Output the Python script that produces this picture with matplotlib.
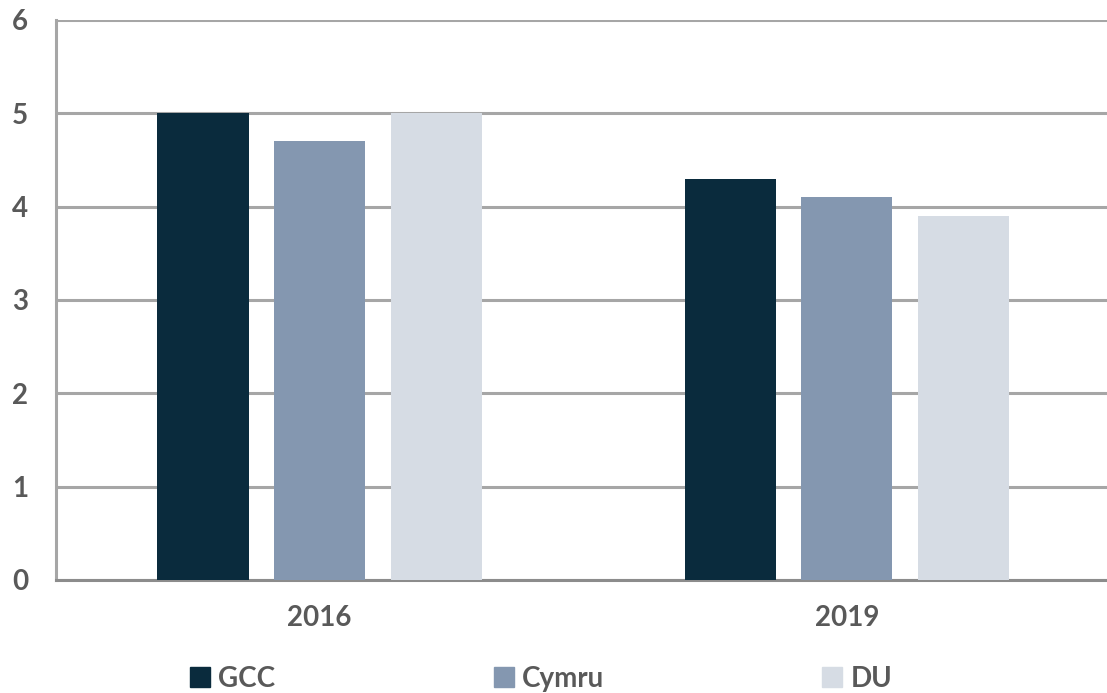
import numpy as np
import matplotlib.pyplot as plt
from matplotlib.patches import Rectangle

plt.rcParams['font.family'] = ['Lato', 'DejaVu Sans']
plt.rcParams['font.weight'] = 'bold'

years = ['2016', '2019']
series = ['GCC', 'Cymru', 'DU']
gcc = [5.0, 4.3]
cymru = [4.7, 4.1]
du = [5.0, 3.9]
colors = ['#0a2b3d', '#8497b0', '#d6dce4']
text_col = '#595959'

W, H = 1107, 693
fig = plt.figure(figsize=(W / 100, H / 100), dpi=100)
ax = fig.add_axes([56 / W, (H - 580) / H, (1110.5 - 56) / W, 560 / H])

x = np.arange(len(years))
width = 0.173
step = 0.221
for i, (vals, c) in enumerate(zip([gcc, cymru, du], colors)):
    ax.bar(x + (i - 1) * step, vals, width, color=c, zorder=3)

ax.set_xlim(-0.5, 1.5)
ax.set_ylim(0, 6)
ax.set_yticks(range(0, 7))
ax.set_xticks(x)
ax.set_xticklabels(years)
ax.yaxis.grid(True, color='#a6a6a6', linewidth=2.2, zorder=0)
ax.tick_params(axis='both', length=0, labelsize=20, labelcolor=text_col)
ax.tick_params(axis='y', pad=20)
ax.tick_params(axis='x', pad=18)
for s in ['top', 'right']:
    ax.spines[s].set_visible(False)
ax.spines['left'].set_color('#a6a6a6')
ax.spines['left'].set_linewidth(2.2)
ax.spines['bottom'].set_color('#8c8c8c')
ax.spines['bottom'].set_linewidth(2.2)

handles = [Rectangle((0, 0), 1, 1, color=c) for c in colors]
leg = fig.legend(handles, series, loc='center left', bbox_to_anchor=(190 / W, (H - 679) / H),
                 ncol=3, frameon=False, fontsize=20, handlelength=0.72, handleheight=0.72,
                 handletextpad=0.3, columnspacing=7.85, borderpad=0, borderaxespad=0)
for t in leg.get_texts():
    t.set_color(text_col)

fig.savefig('out.png', dpi=100)
